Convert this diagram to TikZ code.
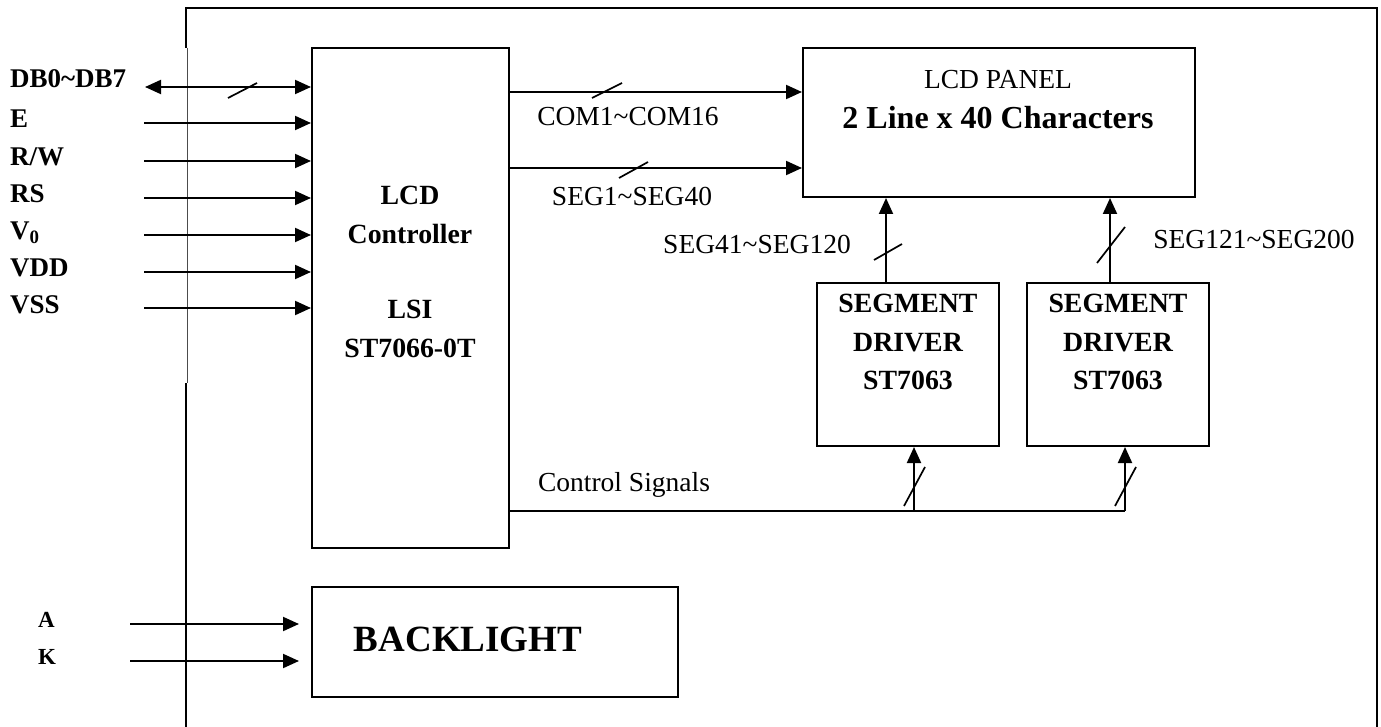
\documentclass[tikz,border=0pt]{standalone}
\usepackage{fontspec}
\setmainfont{Liberation Serif}
\usepackage{tikz}
\usetikzlibrary{arrows.meta,calc}

\newcommand{\tld}{\textasciitilde}

\begin{document}
\begin{tikzpicture}[x=1pt, y=-1pt,
		>={Triangle[length=16pt,width=14pt]},
		box/.style={draw, line width=2pt, inner sep=0pt},
		wire/.style={line width=2pt},
		busmark/.style={line width=1.7pt},
		txt/.style={inner sep=0pt, font=\fontsize{27.5pt}{38pt}\selectfont},
		lbl/.style={inner sep=0pt, font=\bfseries\fontsize{27pt}{30pt}\selectfont},
		btxt/.style={inner sep=0pt, align=center, font=\bfseries\fontsize{27.8pt}{38.5pt}\selectfont}]

		% === figure bounds ===
		\useasboundingbox (0,0) rectangle (1381,727);

		% === Outer frame ===
		\draw[line width=2pt] (186,48) -- (186,8) -- (1377,8) -- (1377,727);
		\draw[line width=0.8pt, gray!60!black] (187,48) -- (187,383);
		\draw[line width=2pt] (186,383) -- (186,727);

		% === Blocks ===
		\node[box, minimum width=197pt, minimum height=500pt] (ctrl) at (410.5,298) {};
		\node[box, minimum width=392pt, minimum height=149pt] (panel) at (999,122.5) {};
		\node[box, minimum width=182pt, minimum height=163pt] (drvA) at (908,364.5) {};
		\node[box, minimum width=182pt, minimum height=163pt] (drvB) at (1118,364.5) {};
		\node[box, minimum width=366pt, minimum height=110pt] (back) at (495,642) {};

		% === Block texts ===
		\node[btxt, anchor=north] (ctrltxt) at (410,186) {LCD\\Controller\\[37pt]LSI\\ST7066-0T};
		\node[txt, anchor=base] (pnlA) at (998,89) {LCD PANEL};
		\node[inner sep=0pt, anchor=base, font=\bfseries\fontsize{32pt}{38pt}\selectfont] (pnlB) at (998,129) {2 Line x 40 Characters};
		\node[btxt, anchor=north] (drvAtxt) at (908,294) {SEGMENT\\DRIVER\\ST7063};
		\node[btxt, anchor=north] (drvBtxt) at (1118,294) {SEGMENT\\DRIVER\\ST7063};
		\node[inner sep=0pt, anchor=base, font=\bfseries\fontsize{37pt}{40pt}\selectfont] (backtxt) at (468,651) {BACKLIGHT};

		% === Inputs ===
		\node[lbl, anchor=base west] (sigDB) at (10,88) {DB0\tld DB7};
		\coordinate (inDB) at (145,87);
		\draw[wire, <->] (inDB) -- (inDB -| ctrl.west);
		\draw[busmark] (228,98) -- (257,83);
		\foreach \i/\y/\txt in {1/123/E, 2/161/{R/W}, 3/198/RS, 4/235/{V\textsubscript{0}}, 5/272/VDD, 6/308/VSS} {
			\node[lbl, anchor=base west] (sig\i) at (10,\y+5) {\txt};	% signal names
			\coordinate (in\i) at (144,\y);
			\draw[wire, ->] (in\i) -- (in\i -| ctrl.west);				% signal lines
		}

		% === Controller -> panel ===
		\coordinate (comY) at (0,92);
		\coordinate (segY) at (0,168);
		\draw[wire, ->] (comY -| ctrl.east) -- (comY -| panel.west);
		\draw[wire, ->] (segY -| ctrl.east) -- (segY -| panel.west);
		\draw[busmark] (592,98) -- (622,83);
		\draw[busmark] (619,178) -- (648,162);
		\node[txt, anchor=base] (comlbl) at (628,126) {COM1\tld COM16};
		\node[txt, anchor=base] (seglbl) at (632,206) {SEG1\tld SEG40};

		% === Drivers -> panel ===
		\draw[wire, ->] ([xshift=-22pt]drvA.north) -- ([xshift=-22pt]drvA.north |- panel.south);
		\draw[wire, ->] ([xshift=-8pt]drvB.north) -- ([xshift=-8pt]drvB.north |- panel.south);
		\draw[busmark] (874,260) -- (902,244);
		\draw[busmark] (1097,263) -- (1125,227);
		\node[txt, anchor=base] (segAlbl) at (757,254) {SEG41\tld SEG120};
		\node[txt, anchor=base] (segBlbl) at (1254,249) {SEG121\tld SEG200};

		% === Control signals ===
		\coordinate (busA) at (914,511);
		\coordinate (busB) at (1125,511);
		\draw[wire] (busA -| ctrl.east) -- (busB);
		\draw[wire, ->] (busA) -- (busA |- drvA.south);
		\draw[wire, ->] (busB) -- (busB |- drvB.south);
		\draw[busmark] (904,506) -- (925,467);
		\draw[busmark] (1115,506) -- (1136,467);
		\node[txt, anchor=base] (ctllbl) at (624,491) {Control Signals};

		% === Backlight ===
		\foreach \n/\y in {A/624, K/661} {
			\node[lbl, font=\bfseries\fontsize{23pt}{26pt}\selectfont, anchor=base west] (bl\n) at (38,\y+3) {\n};
			\coordinate (bin\n) at (130,\y);
			\draw[wire, ->] (bin\n) -- ([xshift=-12pt]bin\n -| back.west);
		}
	\end{tikzpicture}
\end{document}
